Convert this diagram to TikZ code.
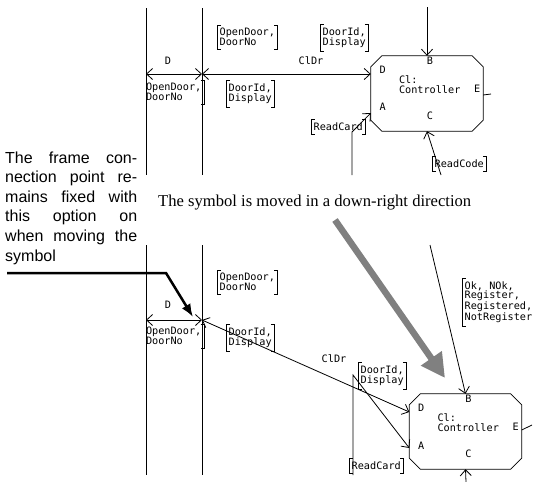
\documentclass[tikz,border=0pt]{standalone}
\usepackage{fontspec}
\setmainfont{Liberation Sans}
\newfontfamily\monof{DejaVu Sans Mono}
\newfontfamily\serf{Liberation Serif}
\usetikzlibrary{arrows.meta,calc}
\newcommand\bracketL[1]{\draw[ln] ([xshift=3.5pt]#1.north west) -- (#1.north west) -- (#1.south west) -- ([xshift=3.5pt]#1.south west);}
\newcommand\bracketR[1]{\draw[ln] ([xshift=-3.5pt]#1.north east) -- (#1.north east) -- (#1.south east) -- ([xshift=-3.5pt]#1.south east);}
\newcommand\octo[1]{\draw[ln] ([xshift=11pt]#1.north west) -- ([xshift=-11pt]#1.north east) -- ([yshift=-11pt]#1.north east) -- ([yshift=11pt]#1.south east) -- ([xshift=-11pt]#1.south east) -- ([xshift=11pt]#1.south west) -- ([yshift=11pt]#1.south west) -- ([yshift=-11pt]#1.north west) -- cycle;}
\begin{document}
\begin{tikzpicture}[x=1pt,y=-1pt,
  ln/.style={line width=0.8pt},
  barb/.tip={Straight Barb[length=6pt,width=11pt]},
  chan/.style={ln,barb-barb},
  into/.style={ln,-barb},
  mono/.style={font=\monof\fontsize{10.2}{10}\selectfont, inner sep=0pt, align=left},
  sig/.style={mono, inner xsep=2.5pt, inner ysep=3pt},
  box/.style={minimum width=112pt, minimum height=75pt, inner sep=0pt}]
\useasboundingbox (0,0) rectangle (539,482);

% ---------- top half ----------
\coordinate (v1a) at (146,8);   \coordinate (v1b) at (146,175);
\coordinate (v2a) at (202,8);   \coordinate (v2b) at (202,175);
\draw[ln] (v1a) -- (v1b);
\draw[ln] (v2a) -- (v2b);
\node[box] (box1) at (427,93.5) {};
\octo{box1}
\coordinate (fL1) at (146,74);
\coordinate (fP1) at (202,74);
\coordinate (b1D) at (box1.west |- 0,74);
\coordinate (b1A) at (box1.west |- 0,113);
\coordinate (bt1) at (427,7);
\coordinate (rc1) at (352,175);
\coordinate (rc1b) at (352,132);
\coordinate (rcd1) at (441,175);
\coordinate (e1) at (box1.east |- 0,95);
\coordinate (e1b) at (491,94);
\draw[chan] (fL1) -- (fP1);
\draw[chan] (fP1) -- (b1D);
\draw[into] (bt1) -- (box1.north);
\draw[into] (rc1) -- (rc1b) -- (b1A);
\draw[into] (rcd1) -- (box1.south);
\draw[ln] (e1) -- (e1b);

\node[mono] (pD1) at ($(box1.north west)+(12,14)$) {D};
\node[mono] (pA1) at ($(box1.north west)+(12,51)$) {A};
\node[mono] (pB1) at ($(box1.north)+(3,4.5)$) {B};
\node[mono] (pC1) at ($(box1.south)+(3,-15)$) {C};
\node[mono] (pE1) at ($(box1.east)+(-6,-4.5)$) {E};
\node[mono, anchor=west] (nm1) at ($(box1.north west)+(28,29)$) {Cl:\\Controller};

\node[mono] (lD1) at (168,61) {D};
\node[mono] (lC1) at (311,61) {ClDr};
\node[sig, anchor=west] (s1) at (217,37) {OpenDoor,\\DoorNo}; \bracketL{s1}\bracketR{s1}
\node[sig, anchor=west] (s2) at (320,38) {DoorId,\\Display}; \bracketL{s2}\bracketR{s2}
\node[sig, anchor=east] (s3) at (204,92) {OpenDoor,\\DoorNo}; \bracketR{s3}
\node[sig, anchor=west] (s4) at (226,94) {DoorId,\\Display}; \bracketL{s4}\bracketR{s4}
\node[sig, anchor=west] (s5) at (311,127) {ReadCard}; \bracketL{s5}\bracketR{s5}
\node[sig, anchor=west] (s6) at (432,164) {ReadCode}; \bracketL{s6}\bracketR{s6}

% ---------- texts ----------
\node[anchor=base west, inner sep=0pt, font=\fontsize{16}{19.6}\selectfont] (note) at (5,163)
  {\parbox[t]{132pt}{\makebox[132pt][s]{The frame con-}\\
   \makebox[132pt][s]{nection point re-}\\
   \makebox[132pt][s]{mains fixed with}\\
   \makebox[132pt][s]{this option on}\\
   \makebox[132pt][s]{when moving the}\\
   symbol}};
\node[anchor=base west, inner sep=0pt, font=\serf\fontsize{16.6}{18}\selectfont] (cap) at (158,206)
  {The symbol is moved in a down-right direction};

% ---------- bottom half ----------
\coordinate (w1a) at (146,245); \coordinate (w1b) at (146,475);
\coordinate (w2a) at (202,245); \coordinate (w2b) at (202,475);
\draw[ln] (w1a) -- (w1b);
\draw[ln] (w2a) -- (w2b);
\node[box] (box2) at (465.5,431.5) {};
\octo{box2}
\coordinate (fL2) at (146,320);
\coordinate (fP2) at (202,320);
\coordinate (b2D) at (box2.west |- 0,412);
\coordinate (b2A) at (box2.west |- 0,448);
\coordinate (bt2) at (430,245);
\coordinate (rc2) at (353,475);
\coordinate (rc2b) at (353,375);
\coordinate (rcd2) at (466,482);
\coordinate (e2) at (box2.east |- 0,430);
\coordinate (e2b) at (532,425);
\draw[chan] (fL2) -- (fP2);
\draw[chan] (fP2) -- (b2D);
\draw[into] (bt2) -- (box2.north);
\draw[into] (rc2) -- (rc2b) -- (b2A);
\draw[into] (rcd2) -- (box2.south);
\draw[ln] (e2) -- (e2b);

\node[mono] (pD2) at ($(box2.north west)+(12,14)$) {D};
\node[mono] (pA2) at ($(box2.north west)+(12,52)$) {A};
\node[mono] (pB2) at ($(box2.north)+(3,4.5)$) {B};
\node[mono] (pC2) at ($(box2.south)+(3,-15)$) {C};
\node[mono] (pE2) at ($(box2.east)+(-6,-4.5)$) {E};
\node[mono, anchor=west] (nm2) at ($(box2.north west)+(28,29)$) {Cl:\\Controller};

\node[mono] (lD2) at (168,305) {D};
\node[mono] (lC2) at (334,359) {ClDr};
\node[sig, anchor=west] (t1) at (217,282) {OpenDoor,\\DoorNo}; \bracketL{t1}\bracketR{t1}
\node[sig, anchor=east] (t3) at (204,336) {OpenDoor,\\DoorNo}; \bracketR{t3}
\node[sig, anchor=west] (t4) at (226,338) {DoorId,\\Display}; \bracketL{t4}\bracketR{t4}
\node[sig, anchor=west] (t2) at (358,376) {DoorId,\\Display}; \bracketL{t2}\bracketR{t2}
\node[sig, anchor=west] (t5) at (349,466) {ReadCard}; \bracketL{t5}\bracketR{t5}
\node[sig, anchor=west, font=\monof\fontsize{10.2}{9.6}\selectfont] (t6) at (462,302) {Ok, NOk,\\Register,\\Registered,\\NotRegister}; \bracketL{t6}

% ---------- pointer arrows ----------
\coordinate (ba0) at (7,273);
\coordinate (ba1) at (166,273);
\coordinate (tipA) at (193,317);
\draw[line width=2.5pt, -{Latex[length=13pt,width=10pt]}] (ba0) -- (ba1) -- (tipA);
\coordinate (ga0) at (335,220);
\coordinate (ga1) at (445,378);
\draw[black!50, line width=6.5pt, -{Triangle[length=24pt,width=24pt]}] (ga0) -- (ga1);
\end{tikzpicture}
\end{document}
